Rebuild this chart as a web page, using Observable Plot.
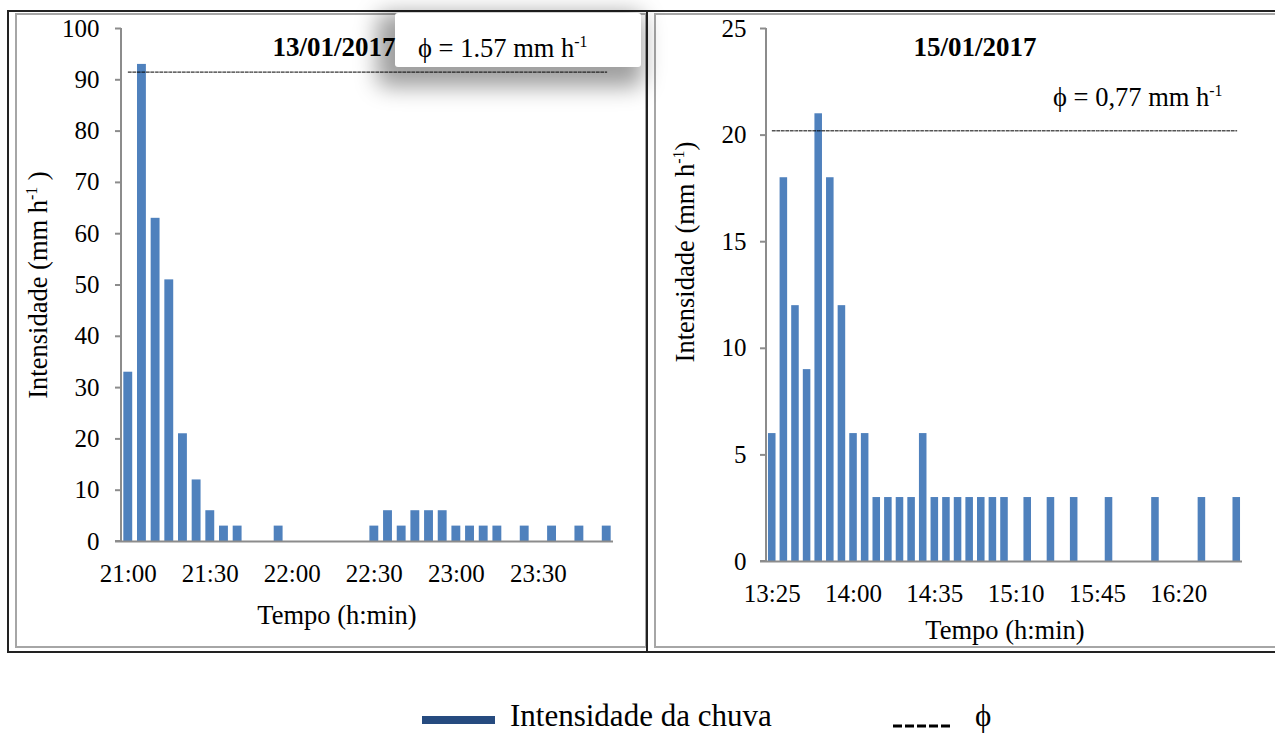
<!DOCTYPE html>
<html><head><meta charset="utf-8">
<script src="https://cdn.jsdelivr.net/npm/d3@7"></script>
<script src="https://cdn.jsdelivr.net/npm/@observablehq/plot@0.6"></script>
<style>
body{margin:0;background:#fff;}
#root{position:relative;width:1275px;height:735px;overflow:hidden;background:#fff;font-family:"Liberation Serif","Times New Roman",serif;color:#000;}
.abs{position:absolute;white-space:nowrap;line-height:1;}
.plotbox{position:absolute;top:0;}
sup{font-size:0.6em;vertical-align:0.6em;line-height:0;}
</style></head><body><div id="root"></div>
<script>
// ---- data ----
const leftTimes = ["21:00","21:05","21:10","21:15","21:20","21:25","21:30","21:35","21:40","21:45","21:50","21:55",
  "22:00","22:05","22:10","22:15","22:20","22:25","22:30","22:35","22:40","22:45","22:50","22:55",
  "23:00","23:05","23:10","23:15","23:20","23:25","23:30","23:35","23:40","23:45","23:50","23:55"];
const leftValues = [33,93,63,51,21,12,6,3,3,0,0,3,0,0,0,0,0,0,3,6,3,6,6,6,3,3,3,3,0,3,0,3,0,3,0,3];
const leftXTicks = ["21:00","21:30","22:00","22:30","23:00","23:30"];
const leftYTicks = [0,10,20,30,40,50,60,70,80,90,100];
const leftPhi = 91.5;
const leftTitle = "13/01/2017";
const leftPhiLabel = "1.57";

const rightTimes = ["13:25","13:30","13:35","13:40","13:45","13:50","13:55","14:00","14:05","14:10","14:15","14:20",
  "14:25","14:30","14:35","14:40","14:45","14:50","14:55","15:00","15:05","15:10","15:15","15:20",
  "15:25","15:30","15:35","15:40","15:45","15:50","15:55","16:00","16:05","16:10","16:15","16:20",
  "16:25","16:30","16:35","16:40","16:45"];
const rightValues = [6,18,12,9,21,18,12,6,6,3,3,3,3,6,3,3,3,3,3,3,3,0,3,0,3,0,3,0,0,3,0,0,0,3,0,0,0,3,0,0,3];
const rightXTicks = ["13:25","14:00","14:35","15:10","15:45","16:20"];
const rightYTicks = [0,5,10,15,20,25];
const rightPhi = 20.2;
const rightTitle = "15/01/2017";
const rightPhiLabel = "0,77";

const legendLabels = ["Intensidade da chuva", "ϕ"];
const barColor = "#4F81BD";

// ---- helpers ----
const root = document.getElementById("root");
function div(html, style){ const d=document.createElement("div"); d.className="abs"; d.innerHTML=html; Object.assign(d.style, style); root.appendChild(d); return d; }

function panel(times, values, xTicks, yTicks, phi, opts){
  const data = times.map((t,i)=>({t, v: values[i]}));
  const chart = Plot.plot({
    width: opts.width, height: 650,
    marginLeft: opts.ml, marginRight: opts.mr, marginTop: 28, marginBottom: opts.mb,
    style: {background:"transparent", fontFamily:"Liberation Serif", fontSize:"25px", color:"#000", overflow:"visible"},
    x: {type:"band", domain: times, paddingInner: 0.35, paddingOuter: 0.17, round: false},
    y: {domain: [yTicks[0], yTicks[yTicks.length-1]]},
    marks: [
      Plot.barY(data, {x:"t", y:"v", fill: barColor}),
      Plot.ruleY([0], {stroke:"#8c8c8c", strokeWidth:2}),
      Plot.axisY({ticks: yTicks, tickSize: 6, tickPadding: opts.ytp, stroke:"#8c8c8c", strokeWidth:2, label:null, fontSize:25}),
      Plot.axisX({ticks: xTicks, tickSize: 0, tickPadding: opts.xtp, label:null, fontSize:25}),
      Plot.lineY(times, {x: d=>d, y: ()=>phi, stroke:"#000", strokeWidth:1, strokeDasharray:"3,1.5"})
    ]
  });
  const xr = chart.scale("x").range, yr = chart.scale("y").range;
  d3.select(chart).append("line").attr("x1", xr[0]).attr("x2", xr[0]).attr("y1", yr[0]).attr("y2", yr[1])
    .attr("stroke","#8c8c8c").attr("stroke-width",2);
  d3.select(chart).append("line").attr("x1", xr[0]-6).attr("x2", xr[0]).attr("y1", yr[0]).attr("y2", yr[0])
    .attr("stroke","#8c8c8c").attr("stroke-width",2);
  chart.classList.add("plotbox");
  chart.style.left = opts.left + "px";
  return chart;
}

// ---- frames ----
div("", {left:"7px", top:"10px", width:"1275px", height:"643px", border:"2px solid #222", boxSizing:"border-box"});
div("", {left:"15px", top:"13px", width:"632px", height:"635px", border:"2px solid #a6a6a6", boxSizing:"border-box"});
div("", {left:"654px", top:"13px", width:"630px", height:"635px", border:"2px solid #a6a6a6", boxSizing:"border-box"});
div("", {left:"646px", top:"10px", width:"2px", height:"643px", background:"#222"});

// phi box (left panel) under the plot so the dashed line shows over the shadow
div(`ϕ = ${leftPhiLabel} mm h<sup>-1</sup>`, {left:"395px", top:"13px", width:"246px", height:"54px", background:"#fff",
  borderRadius:"3px", boxShadow:"-8px 10px 22px 10px rgba(0,0,0,0.38)", fontSize:"26.5px", boxSizing:"border-box",
  paddingLeft:"23px", paddingTop:"22px"});

root.appendChild(panel(leftTimes, leftValues, leftXTicks, leftYTicks, leftPhi,
  {width:648, ml:121, mr:35, mb:109, ytp:16, xtp:23, left:0}));
root.appendChild(panel(rightTimes, rightValues, rightXTicks, rightYTicks, rightPhi,
  {width:627, ml:118, mr:33, mb:89, ytp:14, xtp:23, left:648}));

// titles & labels
div(leftTitle, {left:"334px", top:"47px", transform:"translate(-50%,-50%)", fontSize:"27px", fontWeight:"bold"});
div(rightTitle, {left:"975px", top:"47px", transform:"translate(-50%,-50%)", fontSize:"27px", fontWeight:"bold"});
div(`ϕ = ${rightPhiLabel} mm h<sup>-1</sup>`, {left:"1053px", top:"97px", transform:"translateY(-50%)", fontSize:"26.5px"});
div("Tempo (h:min)", {left:"337px", top:"615px", transform:"translate(-50%,-50%)", fontSize:"26.5px"});
div("Tempo (h:min)", {left:"1005px", top:"630px", transform:"translate(-50%,-50%)", fontSize:"26.5px"});
div("Intensidade (mm h<sup>-1</sup> )", {left:"38px", top:"285px", transform:"translate(-50%,-50%) rotate(-90deg)", fontSize:"26.5px"});
div("Intensidade (mm h<sup>-1</sup>)", {left:"685px", top:"252px", transform:"translate(-50%,-50%) rotate(-90deg)", fontSize:"26.5px"});

// legend
div("", {left:"422px", top:"716px", width:"73px", height:"8px", background:"#264B7F"});
div(legendLabels[0], {left:"510px", top:"716px", transform:"translateY(-50%)", fontSize:"31px", lineHeight:"0.9"});
div('<svg width="60" height="6"><line x1="0" x2="58" y1="3" y2="3" stroke="#000" stroke-width="3" stroke-dasharray="9,3"/></svg>',
  {left:"893px", top:"716px"});
div(legendLabels[1], {left:"975px", top:"716px", transform:"translateY(-50%)", fontSize:"31px", lineHeight:"0.9"});
</script></body></html>
